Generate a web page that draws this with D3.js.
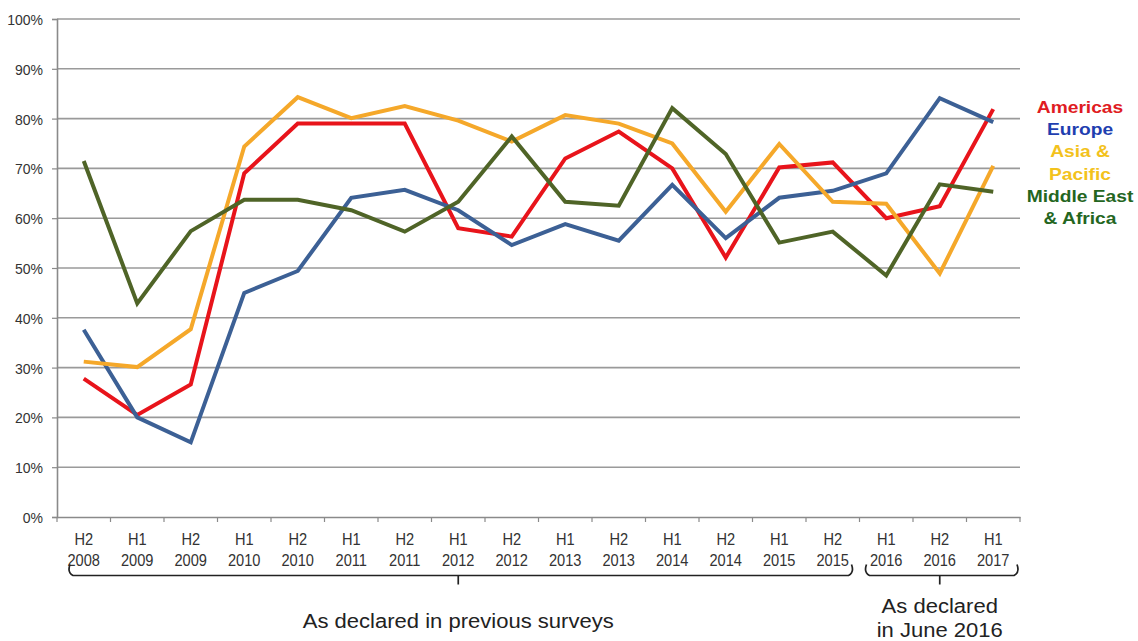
<!DOCTYPE html>
<html><head><meta charset="utf-8">
<script src="https://cdn.jsdelivr.net/npm/d3@7"></script>
<style>
body{margin:0;background:#fff;}
text{font-family:"Liberation Sans",Arial,sans-serif;}
</style></head>
<body><svg id="chart" width="1138" height="641"></svg>
<script>
const periods = ["H2 2008","H1 2009","H2 2009","H1 2010","H2 2010","H1 2011","H2 2011","H1 2012","H2 2012","H1 2013","H2 2013","H1 2014","H2 2014","H1 2015","H2 2015","H1 2016","H2 2016","H1 2017"];
const americas = [27.8,20.5,26.6,69.0,79.0,79.0,79.0,58.0,56.3,72.0,77.4,70.0,52.1,70.2,71.2,60.0,62.4,81.9];
const europe   = [37.6,20.0,15.0,45.0,49.4,64.1,65.7,61.6,54.6,58.8,55.5,66.7,56.0,64.1,65.5,69.0,84.1,79.3];
const asiaPac  = [31.2,30.1,37.7,74.4,84.3,80.1,82.5,79.6,75.4,80.7,79.0,75.0,61.3,74.9,63.3,62.9,48.9,70.5];
const meAfrica = [71.5,42.9,57.4,63.7,63.7,61.6,57.3,63.3,76.4,63.3,62.5,82.1,72.9,55.1,57.3,48.5,66.8,65.3];
const yTicks = [0,10,20,30,40,50,60,70,80,90,100];
const seriesNames = ["Americas","Europe","Asia &\nPacific","Middle East\n& Africa"];
const groupLabels = ["As declared in previous surveys","As declared\nin June 2016"];

const series = [
  {name:seriesNames[0], values:americas, line:"#e8141b", label:"#e01b22"},
  {name:seriesNames[1], values:europe,   line:"#3c6095", label:"#1f3fb0"},
  {name:seriesNames[2], values:asiaPac,  line:"#f5a82a", label:"#f3c21c"},
  {name:seriesNames[3], values:meAfrica, line:"#4f6427", label:"#24661f"}
];

const svg = d3.select("#chart");
const pLeft = 57, pRight = 1020, pTop = 19, pBottom = 517;

const x = d3.scaleBand().domain(periods).range([pLeft, pRight]).paddingInner(0).paddingOuter(0);
const y = d3.scaleLinear().domain([0,100]).range([pBottom, pTop]);
const cx = p => x(p) + x.bandwidth()/2;

function addText(tx, ty, str, size, sx, opts={}){
  return svg.append("text")
    .attr("transform", `translate(${tx},${ty}) scale(${sx},1)`)
    .attr("text-anchor", opts.anchor || "middle")
    .attr("font-size", size+"px")
    .attr("font-weight", opts.weight || "normal")
    .attr("fill", opts.fill || "#333")
    .text(str);
}

// gridlines
svg.append("g").selectAll("line").data(yTicks.filter(t=>t>0)).join("line")
  .attr("x1", pLeft).attr("x2", pRight)
  .attr("y1", d=>y(d)).attr("y2", d=>y(d))
  .attr("stroke","#9a9a9a").attr("stroke-width",1.6);

// y axis
const ySX = 0.91;
const yAxis = svg.append("g").attr("transform",`translate(${pLeft},0)`)
  .call(d3.axisLeft(y).tickValues(yTicks).tickFormat(d=>d+"%").tickSize(5).tickPadding(9));
yAxis.select(".domain").attr("stroke","#8a8a8a").attr("stroke-width",1.6);
yAxis.selectAll(".tick line").attr("stroke","#8a8a8a").attr("stroke-width",1.2);
yAxis.selectAll(".tick text")
  .attr("font-size","15.4px").attr("fill","#333")
  .attr("x", -14/ySX).attr("transform",`scale(${ySX},1)`).attr("dy","0.36em");

// x axis
const xAxis = svg.append("g").attr("transform",`translate(0,${pBottom})`)
  .call(d3.axisBottom(x).tickValues([]).tickSizeOuter(0));
xAxis.select(".domain").attr("stroke","#8a8a8a").attr("stroke-width",1.6);
// boundary ticks
const bounds = periods.map(p=>x(p)).concat([pRight]);
svg.append("g").selectAll("line").data(bounds).join("line")
  .attr("x1",d=>d).attr("x2",d=>d).attr("y1",pBottom).attr("y2",pBottom+5)
  .attr("stroke","#8a8a8a").attr("stroke-width",1.2);
// x labels
periods.forEach(p=>{
  const parts = p.split(" ");
  addText(cx(p), 545, parts[0], 17.2, 0.85);
  addText(cx(p), 566, parts[1], 17.2, 0.85);
});

// lines
const line = d3.line().x((d,i)=>cx(periods[i])).y(d=>y(d));
svg.append("g").selectAll("path").data(series).join("path")
  .attr("d", d=>line(d.values)).attr("fill","none")
  .attr("stroke", d=>d.line).attr("stroke-width",4)
  .attr("stroke-linejoin","miter").attr("stroke-linecap","butt");

// legend
const legendX = 1080;
let ly = 112.7;
series.forEach(s=>{
  s.name.split("\n").forEach(t=>{
    addText(legendX, ly, t, 16, 1.2, {weight:"bold", fill:s.label});
    ly += 22.3;
  });
});

// brackets
function bracket(x0, x1, xm, yb){
  const r = 6;
  const p = d3.path();
  p.moveTo(x0+3, yb-11);
  p.quadraticCurveTo(x0, yb-3, x0+r, yb);
  p.lineTo(x1-r, yb);
  p.quadraticCurveTo(x1, yb-3, x1-3, yb-11);
  p.moveTo(xm, yb); p.lineTo(xm, yb+9);
  svg.append("path").attr("d", p.toString()).attr("fill","none")
    .attr("stroke","#222").attr("stroke-width",1.7);
}
const b1x0 = x(periods[0]) + 10, b1x1 = x(periods[15]) - 5;
const b2x0 = x(periods[15]) + 4, b2x1 = pRight;
bracket(b1x0, b1x1, cx(periods[7]), 575.5);
bracket(b2x0, b2x1, cx(periods[16]), 575.5);

addText(cx(periods[7]), 628, groupLabels[0], 19.5, 1.13, {fill:"#222"});
groupLabels[1].split("\n").forEach((t,i)=>{
  addText(cx(periods[16]), 613.3+i*23.5, t, 19.5, 1.13, {fill:"#222"});
});
</script></body></html>
